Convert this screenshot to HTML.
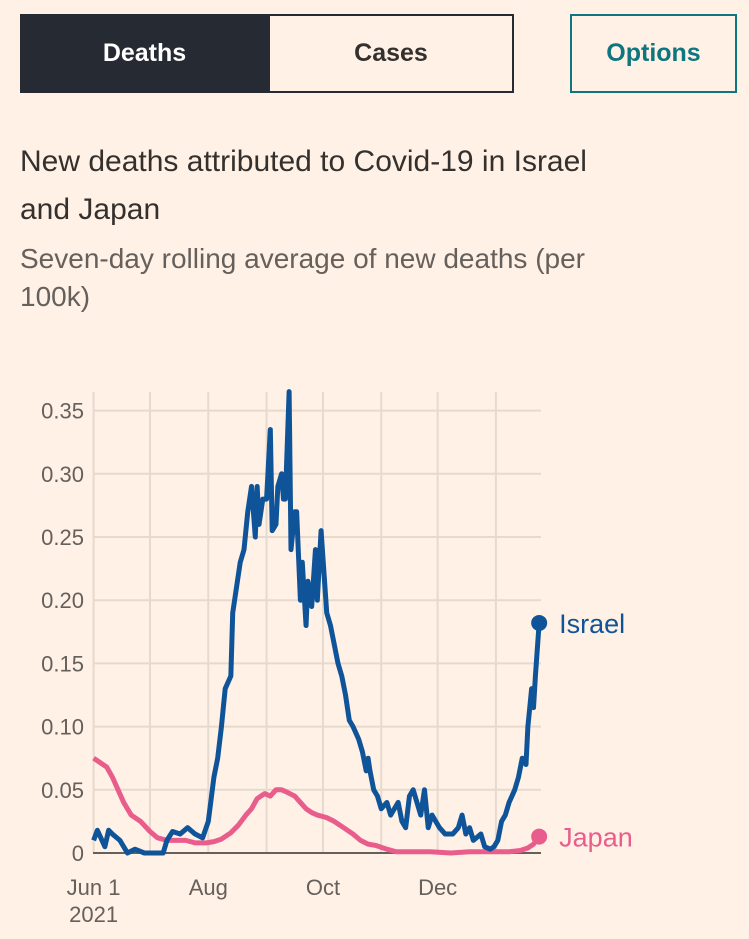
<!DOCTYPE html>
<html><head><meta charset="utf-8"><style>
body{margin:0;background:#fff1e5;width:749px;height:939px;overflow:hidden;font-family:"Liberation Sans",sans-serif;position:relative}
.btn{position:absolute;box-sizing:border-box;display:flex;align-items:center;justify-content:center;font-weight:bold;font-size:25px}
.t{position:absolute;left:20px;color:#33302e}
</style></head><body>
<div class="btn" style="left:20px;top:14px;width:249px;height:79px;background:#262a33;color:#fff">Deaths</div>
<div class="btn" style="left:268px;top:14px;width:246px;height:79px;border:2px solid #262a33;color:#33302e">Cases</div>
<div class="btn" style="left:570px;top:14px;width:167px;height:79px;border:2px solid #0d7680;color:#0d7680">Options</div>
<div class="t" style="top:138px;font-size:30px;line-height:48px;width:600px">New deaths attributed to Covid-19 in Israel and Japan</div>
<div class="t" style="top:240px;font-size:28px;line-height:38px;color:#66605c;width:640px">Seven-day rolling average of new deaths (per 100k)</div>
<svg id="chart" width="749" height="939" style="position:absolute;left:0;top:0"></svg>
<script>
const israelDays=[0,2,6,8,10,14,18,22,27,33,37,39,42,46,50,54,58,61,64,66,68,70,73,74,76,78,80,82,84,86,87,88,90,92,94,95,97,98,100,101,102,104,105,107,108,110,111,113,114,116,118,119,121,124,126,130,132,134,136,138,141,143,145,146,147,149,151,153,156,158,160,162,164,166,168,170,173,174,176,178,180,182,184,187,191,194,196,198,200,202,206,208,211,213,215,217,219,221,224,226,228,230,231,233,234,235,237];
const israelVals=[0.01,0.018,0.005,0.018,0.015,0.01,0,0.003,0,0,0,0.01,0.017,0.015,0.02,0.015,0.012,0.025,0.06,0.075,0.10,0.13,0.14,0.19,0.21,0.23,0.24,0.27,0.29,0.25,0.29,0.26,0.28,0.28,0.335,0.255,0.26,0.29,0.30,0.28,0.28,0.365,0.24,0.27,0.27,0.20,0.23,0.18,0.215,0.195,0.24,0.20,0.255,0.19,0.18,0.15,0.14,0.125,0.105,0.10,0.09,0.08,0.065,0.075,0.065,0.05,0.045,0.035,0.04,0.03,0.035,0.04,0.025,0.02,0.045,0.05,0.035,0.03,0.05,0.02,0.03,0.025,0.02,0.015,0.015,0.02,0.03,0.015,0.02,0.01,0.015,0.005,0.003,0.005,0.01,0.025,0.03,0.04,0.05,0.06,0.075,0.07,0.10,0.13,0.115,0.14,0.182];
const japanDays=[0,3,7,10,13,16,20,25,30,34,39,44,49,54,60,64,68,73,77,81,84,87,91,94,97,100,103,107,110,113,116,119,124,128,133,138,142,146,150,156,161,168,179,190,200,211,221,227,231,234,237];
const japanVals=[0.075,0.072,0.068,0.06,0.05,0.04,0.03,0.025,0.017,0.012,0.01,0.01,0.01,0.008,0.008,0.009,0.011,0.016,0.022,0.03,0.035,0.043,0.047,0.045,0.05,0.05,0.048,0.045,0.04,0.035,0.032,0.03,0.028,0.025,0.02,0.015,0.01,0.007,0.006,0.003,0.001,0.001,0.001,0,0.001,0.001,0.001,0.002,0.004,0.007,0.013];
const yTicks=[0,0.05,0.10,0.15,0.20,0.25,0.30,0.35];
const yTickLabels=["0","0.05","0.10","0.15","0.20","0.25","0.30","0.35"];
const monthDays=[0,30,61,92,122,153,183,214];
const xTickDays=[0,61,122,183];
const xTickLabels=["Jun 1","Aug","Oct","Dec"];
const X=d=>93.6+d*1.88, Y=v=>853-v*1264;
const svg=document.getElementById('chart'),NS='http://www.w3.org/2000/svg';
function mk(t,a){const e=document.createElementNS(NS,t);for(const k in a)e.setAttribute(k,a[k]);svg.appendChild(e);return e;}
monthDays.forEach(d=>{const e=mk('line',{x1:X(d),x2:X(d),y1:392,y2:853,stroke:'#e6d9ce','stroke-width':2});

});
yTicks.forEach((v,i)=>{if(v>0){const g=mk('line',{x1:93,x2:541,y1:Y(v),y2:Y(v),stroke:'#e6d9ce','stroke-width':2});

}
const t=mk('text',{x:84,y:Y(v)+8,'text-anchor':'end','font-size':22,fill:'#66605c'});t.textContent=yTickLabels[i];

});
xTickDays.forEach((d,i)=>{const t=mk('text',{x:X(d),y:895,'text-anchor':'middle','font-size':22,fill:'#66605c'});t.textContent=xTickLabels[i];

});
const yr=mk('text',{x:X(0),y:922,'text-anchor':'middle','font-size':22,fill:'#66605c'});yr.textContent='2021';


const za=mk('line',{x1:93,x2:541,y1:853,y2:853,stroke:'#66605c','stroke-width':2});


function series(days,vals,col,name,label){
const p=mk('polyline',{points:days.map((d,i)=>X(d)+','+Y(vals[i])).join(' '),fill:'none',stroke:col,'stroke-width':5,'stroke-linejoin':'round'});


const n=days.length-1;
const c=mk('circle',{cx:X(days[n]),cy:Y(vals[n]),r:8,fill:col});


const t=mk('text',{x:X(days[n])+20,y:Y(vals[n])+10,'font-size':27,fill:col});t.textContent=label;

}
series(japanDays,japanVals,'#e95d8c','japan','Japan');
series(israelDays,israelVals,'#0f5499','israel','Israel');
</script>
</body></html>
